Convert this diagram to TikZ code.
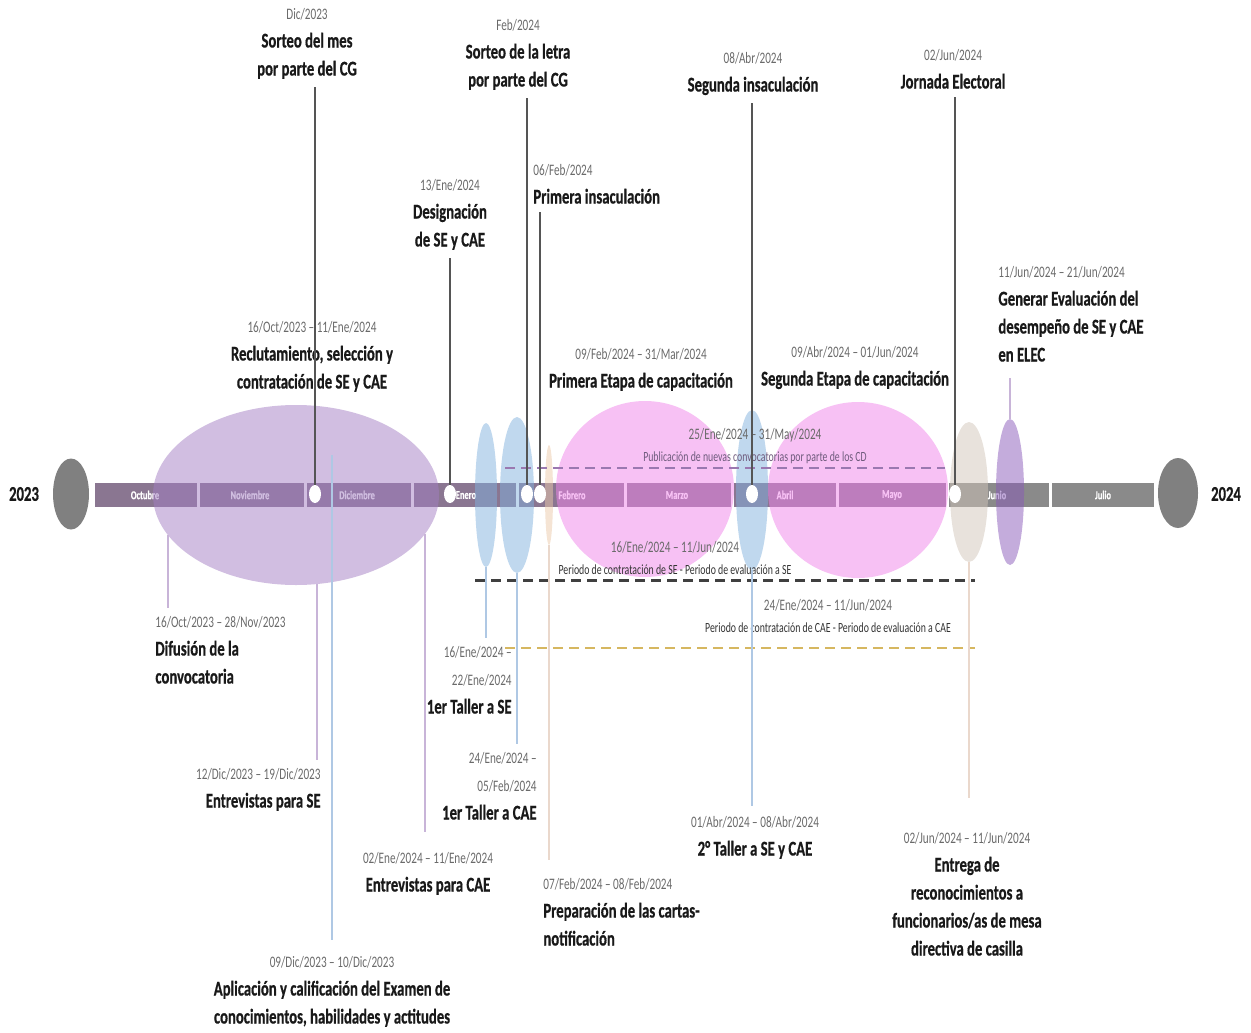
\documentclass[tikz,border=0pt]{standalone}
\usepackage{fontspec}
\setmainfont{Carlito}[FakeStretch=0.7, BoldFeatures={FakeBold=0.6}]
\usetikzlibrary{shapes.geometric}

\definecolor{barmes}{HTML}{8A7691}
\definecolor{bargris}{HTML}{8A8A8A}
\definecolor{anio}{HTML}{808080}
\definecolor{lila}{HTML}{A37EC3}
\definecolor{rosa}{HTML}{F084EA}
\definecolor{azul}{HTML}{81B1DD}
\definecolor{beige}{HTML}{D1C5B9}
\definecolor{durazno}{HTML}{EBC9A9}
\definecolor{morado}{HTML}{8959B9}
\definecolor{fechagris}{HTML}{6A6A6A}
\definecolor{tallo}{HTML}{555555}
\definecolor{pubcol}{HTML}{9A78B0}
\definecolor{pubtxt}{HTML}{6E5A7C}
\definecolor{caecol}{HTML}{D6B760}
\definecolor{twiglila}{HTML}{C8B4D8}
\definecolor{twigazul}{HTML}{AFC8E4}
\definecolor{twigbeige}{HTML}{EAD8CC}

\newcommand{\dte}[1]{{\fontsize{8}{14}\selectfont\mdseries\color{fechagris}#1}}

\tikzset{
    ttl/.style={align=center, inner sep=0pt, text=black!90, font=\fontsize{10.5}{14}\selectfont\bfseries},
    per/.style={align=center, inner sep=0pt, font=\fontsize{7}{11}\selectfont},
    mes/.style={text=white, inner sep=0pt, font=\fontsize{6}{7}\selectfont\bfseries},
    blob/.style={ellipse, inner sep=0pt, draw=none, fill=#1, fill opacity=0.5},
    hito/.style={ellipse, inner sep=0pt, fill=white, minimum width=6pt, minimum height=9pt},
    stem/.style={draw=tallo, line width=1pt, shorten >=4pt},
    twig/.style={draw=#1, line width=0.8pt, shorten >=4pt},
}

\begin{document}
\begin{tikzpicture}[x=0.5pt, y=-0.5pt]
    \useasboundingbox (0,0) rectangle (1251,1032);

    % Year ends
    \node[ellipse, fill=anio, inner sep=0pt, minimum width=18pt, minimum height=35.5pt] (c23) at (71,494) {};
    \node[ellipse, fill=anio, inner sep=0pt, minimum width=20pt, minimum height=35pt] (c24) at (1178,493) {};
    \node[ttl] (t23) at (24,494) {2023};
    \node[ttl] (t24) at (1226,494) {2024};

    % Month bar
    \foreach \a/\b/\c in {93/198/barmes, 198/305/barmes, 305/412/barmes, 412/517/barmes,
                          517/625/barmes, 625/732/barmes, 732/837/barmes, 837/947/barmes,
                          947/1050/bargris, 1050/1155/bargris} {
        \fill[\c] (\a+1.5,483) rectangle (\b-1.5,507);
    }
    \foreach \m/\x in {Octubre/145, Noviembre/250, Diciembre/357, Enero/466, Febrero/572,
                       Marzo/677, Abril/785, Mayo/892, Junio/997, Julio/1103} {
        \node[mes] (m\m) at (\x,495) {\m};
    }

    % Periods (ellipses)
    \node[blob=lila, minimum width=143pt, minimum height=90pt] (eLav) at (296,495) {};
    \node[blob=azul, minimum width=11pt, minimum height=72pt] (eBlue1) at (486,495) {};
    \node[blob=azul, minimum width=17pt, minimum height=78pt] (eBlue2) at (517,495) {};
    \node[blob=durazno, minimum width=4pt, minimum height=50pt] (ePeach) at (549,495) {};
    \node[blob=rosa, minimum width=89pt, minimum height=88pt] (ePink1) at (645,489) {};
    \node[blob=rosa, minimum width=90pt, minimum height=88pt] (ePink2) at (858,490) {};
    \node[blob=azul, minimum width=16pt, minimum height=80pt] (eBlue3) at (752,490) {};
    \node[blob=beige, minimum width=19pt, minimum height=70pt] (eBeige) at (969,492) {};
    \node[blob=morado, minimum width=14pt, minimum height=73pt] (ePurp) at (1010,492) {};

    % Milestone points
    \coordinate (pDic) at (315,494);
    \coordinate (pEne) at (450,494);
    \coordinate (pFebA) at (527,494);
    \coordinate (pFebB) at (540,494);
    \coordinate (pAbr) at (752,494);
    \coordinate (pJun) at (955,494);

    % Labels above
    \node[ttl, anchor=north] (lSorteoMes) at (307,8) {\dte{Dic/2023}\\Sorteo del mes\\por parte del CG};
    \node[ttl, anchor=north] (lDesig) at (450,179) {\dte{13/Ene/2024}\\Designación\\de SE y CAE};
    \node[ttl, anchor=north] (lSorteoLetra) at (518,19) {\dte{Feb/2024}\\Sorteo de la letra\\por parte del CG};
    \node[ttl, anchor=north west, align=left] (lPrimIns) at (533,164) {\dte{06/Feb/2024}\\Primera insaculación};
    \node[ttl, anchor=north] (lSegIns) at (753,52) {\dte{08/Abr/2024}\\Segunda insaculación};
    \node[ttl, anchor=north] (lJornada) at (953,49) {\dte{02/Jun/2024}\\Jornada Electoral};
    \node[ttl, anchor=north] (lReclut) at (312,321) {\dte{16/Oct/2023 – 11/Ene/2024}\\Reclutamiento, selección y\\contratación de SE y CAE};
    \node[ttl, anchor=north] (lPrimEtapa) at (641,348) {\dte{09/Feb/2024 – 31/Mar/2024}\\Primera Etapa de capacitación};
    \node[ttl, anchor=north] (lSegEtapa) at (855,346) {\dte{09/Abr/2024 – 01/Jun/2024}\\Segunda Etapa de capacitación};
    \node[ttl, anchor=north west, align=left] (lGenerar) at (998,266) {\dte{11/Jun/2024 – 21/Jun/2024}\\Generar Evaluación del\\desempeño de SE y CAE\\en ELEC};

    % Hiring periods (dashed)
    \node[per, anchor=north, text=pubtxt] (lPub) at (755,428) {\dte{25/Ene/2024 – 31/May/2024}\\Publicación de nuevas convocatorias por parte de los CD};
    \node[per, anchor=north, text=black!80] (lSE) at (675,541) {\dte{16/Ene/2024 – 11/Jun/2024}\\Periodo de contratación de SE - Periodo de evaluación a SE};
    \node[per, anchor=north, text=black!80] (lCAE) at (828,599) {\dte{24/Ene/2024 – 11/Jun/2024}\\Periodo de contratación de CAE - Periodo de evaluación a CAE};
    \coordinate (pubA) at (505,468);
    \coordinate (pubB) at (945,468);
    \coordinate (seA) at (475,580);
    \coordinate (seB) at (975,580);
    \coordinate (caeA) at (505,648);
    \coordinate (caeB) at (975,648);
    \draw[pubcol, line width=1pt, dash pattern=on 5pt off 3pt] (pubA) -- (pubB);
    \draw[black!75, line width=1.5pt, dash pattern=on 5pt off 3pt] (seA) -- (seB);
    \draw[caecol, line width=1pt, dash pattern=on 5pt off 3pt] (caeA) -- (caeB);

    % Labels below
    \node[ttl, anchor=north west, align=left] (lDif) at (155,616) {\dte{16/Oct/2023 – 28/Nov/2023}\\Difusión de la\\convocatoria};
    \node[ttl, anchor=north east, align=right] (lEse) at (321,768) {\dte{12/Dic/2023 – 19/Dic/2023}\\Entrevistas para SE};
    \node[ttl, anchor=north] (lApl) at (332,956) {\dte{09/Dic/2023 – 10/Dic/2023}\\Aplicación y calificación del Examen de\\conocimientos, habilidades y actitudes};
    \node[ttl, anchor=north] (lEcae) at (428,852) {\dte{02/Ene/2024 – 11/Ene/2024}\\Entrevistas para CAE};
    \node[ttl, anchor=north east, align=right] (lT1se) at (512,646) {\dte{16/Ene/2024 –}\\\dte{22/Ene/2024}\\1er Taller a SE};
    \node[ttl, anchor=north east, align=right] (lT1cae) at (537,752) {\dte{24/Ene/2024 –}\\\dte{05/Feb/2024}\\1er Taller a CAE};
    \node[ttl, anchor=north west, align=left] (lPrep) at (543,878) {\dte{07/Feb/2024 – 08/Feb/2024}\\Preparación de las cartas-\\notificación};
    \node[ttl, anchor=north] (lT2) at (755,816) {\dte{01/Abr/2024 – 08/Abr/2024}\\2° Taller a SE y CAE};
    \node[ttl, anchor=north] (lEnt) at (967,832) {\dte{02/Jun/2024 – 11/Jun/2024}\\Entrega de\\reconocimientos a\\funcionarios/as de mesa\\directiva de casilla};

    % Stems from periods to labels
    \coordinate (cDif) at (168,535);
    \coordinate (cEse) at (317,584);
    \coordinate (cApl) at (332,455);
    \coordinate (cEcae) at (425,534);
    \draw[twig=twiglila] (cDif) -- (lDif.north -| cDif);
    \draw[twig=twiglila] (cEse) -- (lEse.north -| cEse);
    \draw[twig=twigazul, shorten >=8pt] (cApl) -- (lApl.north -| cApl);
    \draw[twig=twiglila, shorten >=10pt] (cEcae) -- (lEcae.north -| cEcae);
    \draw[twig=twigazul] (eBlue1.south) -- (lT1se.north -| eBlue1.south);
    \draw[twig=twigazul] (eBlue2.south) -- (lT1cae.north -| eBlue2.south);
    \draw[twig=twigbeige, shorten >=9pt] (ePeach.south) -- (lPrep.north -| ePeach.south);
    \draw[twig=twigazul, shorten >=5pt] (eBlue3.south) -- (lT2.north -| eBlue3.south);
    \draw[twig=twigbeige, shorten >=17pt] (eBeige.south) -- (lEnt.north -| eBeige.south);
    \draw[twig=twiglila, shorten >=8pt] (ePurp.north) -- (ePurp.north |- lGenerar.south);

    % Stems from milestones
    \draw[stem] (pDic) -- (pDic |- lSorteoMes.south);
    \draw[stem] (pEne) -- (pEne |- lDesig.south);
    \draw[stem] (pFebA) -- (pFebA |- lSorteoLetra.south);
    \draw[stem] (pFebB) -- (pFebB |- lPrimIns.south);
    \draw[stem] (pAbr) -- (pAbr |- lSegIns.south);
    \draw[stem] (pJun) -- (pJun |- lJornada.south);

    % Milestone dots
    \node[hito] (dDic) at (pDic) {};
    \node[hito] (dEne) at (pEne) {};
    \node[hito] (dFebA) at (pFebA) {};
    \node[hito] (dFebB) at (pFebB) {};
    \node[hito] (dAbr) at (pAbr) {};
    \node[hito] (dJun) at (pJun) {};
\end{tikzpicture}
\end{document}
